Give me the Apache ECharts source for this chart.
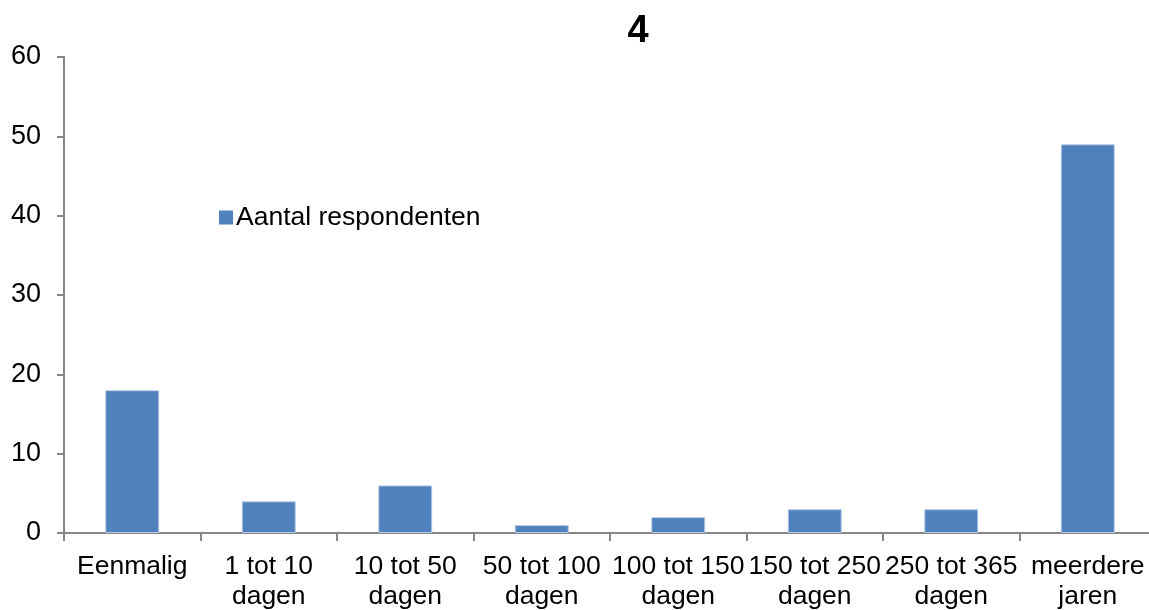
<!DOCTYPE html>
<html><head><meta charset="utf-8">
<script src="https://cdn.jsdelivr.net/npm/echarts@6/dist/echarts.min.js"></script>
<style>html,body{margin:0;padding:0;background:#fff}#c{width:1149px;height:610px}</style>
</head><body><div id="c"></div>
<script>
const categories = ['Eenmalig','1 tot 10\ndagen','10 tot 50\ndagen','50 tot 100\ndagen','100 tot 150\ndagen','150 tot 250\ndagen','250 tot 365\ndagen','meerdere\njaren'];
const values = [18,4,6,1,2,3,3,49];
const seriesName = 'Aantal respondenten';
const chartTitle = '4';
const yMin = 0, yMax = 60, yStep = 10;

const chart = echarts.init(document.getElementById('c'), null, {renderer:'canvas'});
const font = 'Liberation Sans, Arial, sans-serif';
chart.setOption({
  animation:false,
  title:{text:chartTitle,left:633,top:8,textAlign:'center',textStyle:{fontFamily:font,fontSize:38,fontWeight:'bold',color:'#000'}},
  legend:{data:[seriesName],left:214,top:199,itemWidth:14,itemHeight:14,itemGap:6,icon:'rect',
    itemStyle:{borderWidth:0},
    textStyle:{fontFamily:font,fontSize:26.5,color:'#000',padding:[0,0,0,-2]}},
  grid:{left:64,width:1092,top:57,height:476,containLabel:false,outerBoundsMode:'none'},
  xAxis:{type:'category',data:categories,
    axisLine:{lineStyle:{color:'#868686',width:2}},
    axisTick:{show:true,length:8,interval:0,lineStyle:{color:'#868686',width:2}},
    axisLabel:{interval:0,fontFamily:font,fontSize:26.5,color:'#000',lineHeight:30,margin:19}},
  yAxis:{type:'value',min:yMin,max:yMax,interval:yStep,
    axisLine:{show:true,lineStyle:{color:'#868686',width:2}},
    axisTick:{show:true,length:7,lineStyle:{color:'#868686',width:2}},
    splitLine:{show:false},
    axisLabel:{fontFamily:font,fontSize:27,color:'#000',margin:23}},
  series:[{name:seriesName,type:'bar',data:values,barWidth:54,
    itemStyle:{color:'#4F81BD',borderColor:'#B9CDE5',borderWidth:1}}]
});
</script></body></html>
